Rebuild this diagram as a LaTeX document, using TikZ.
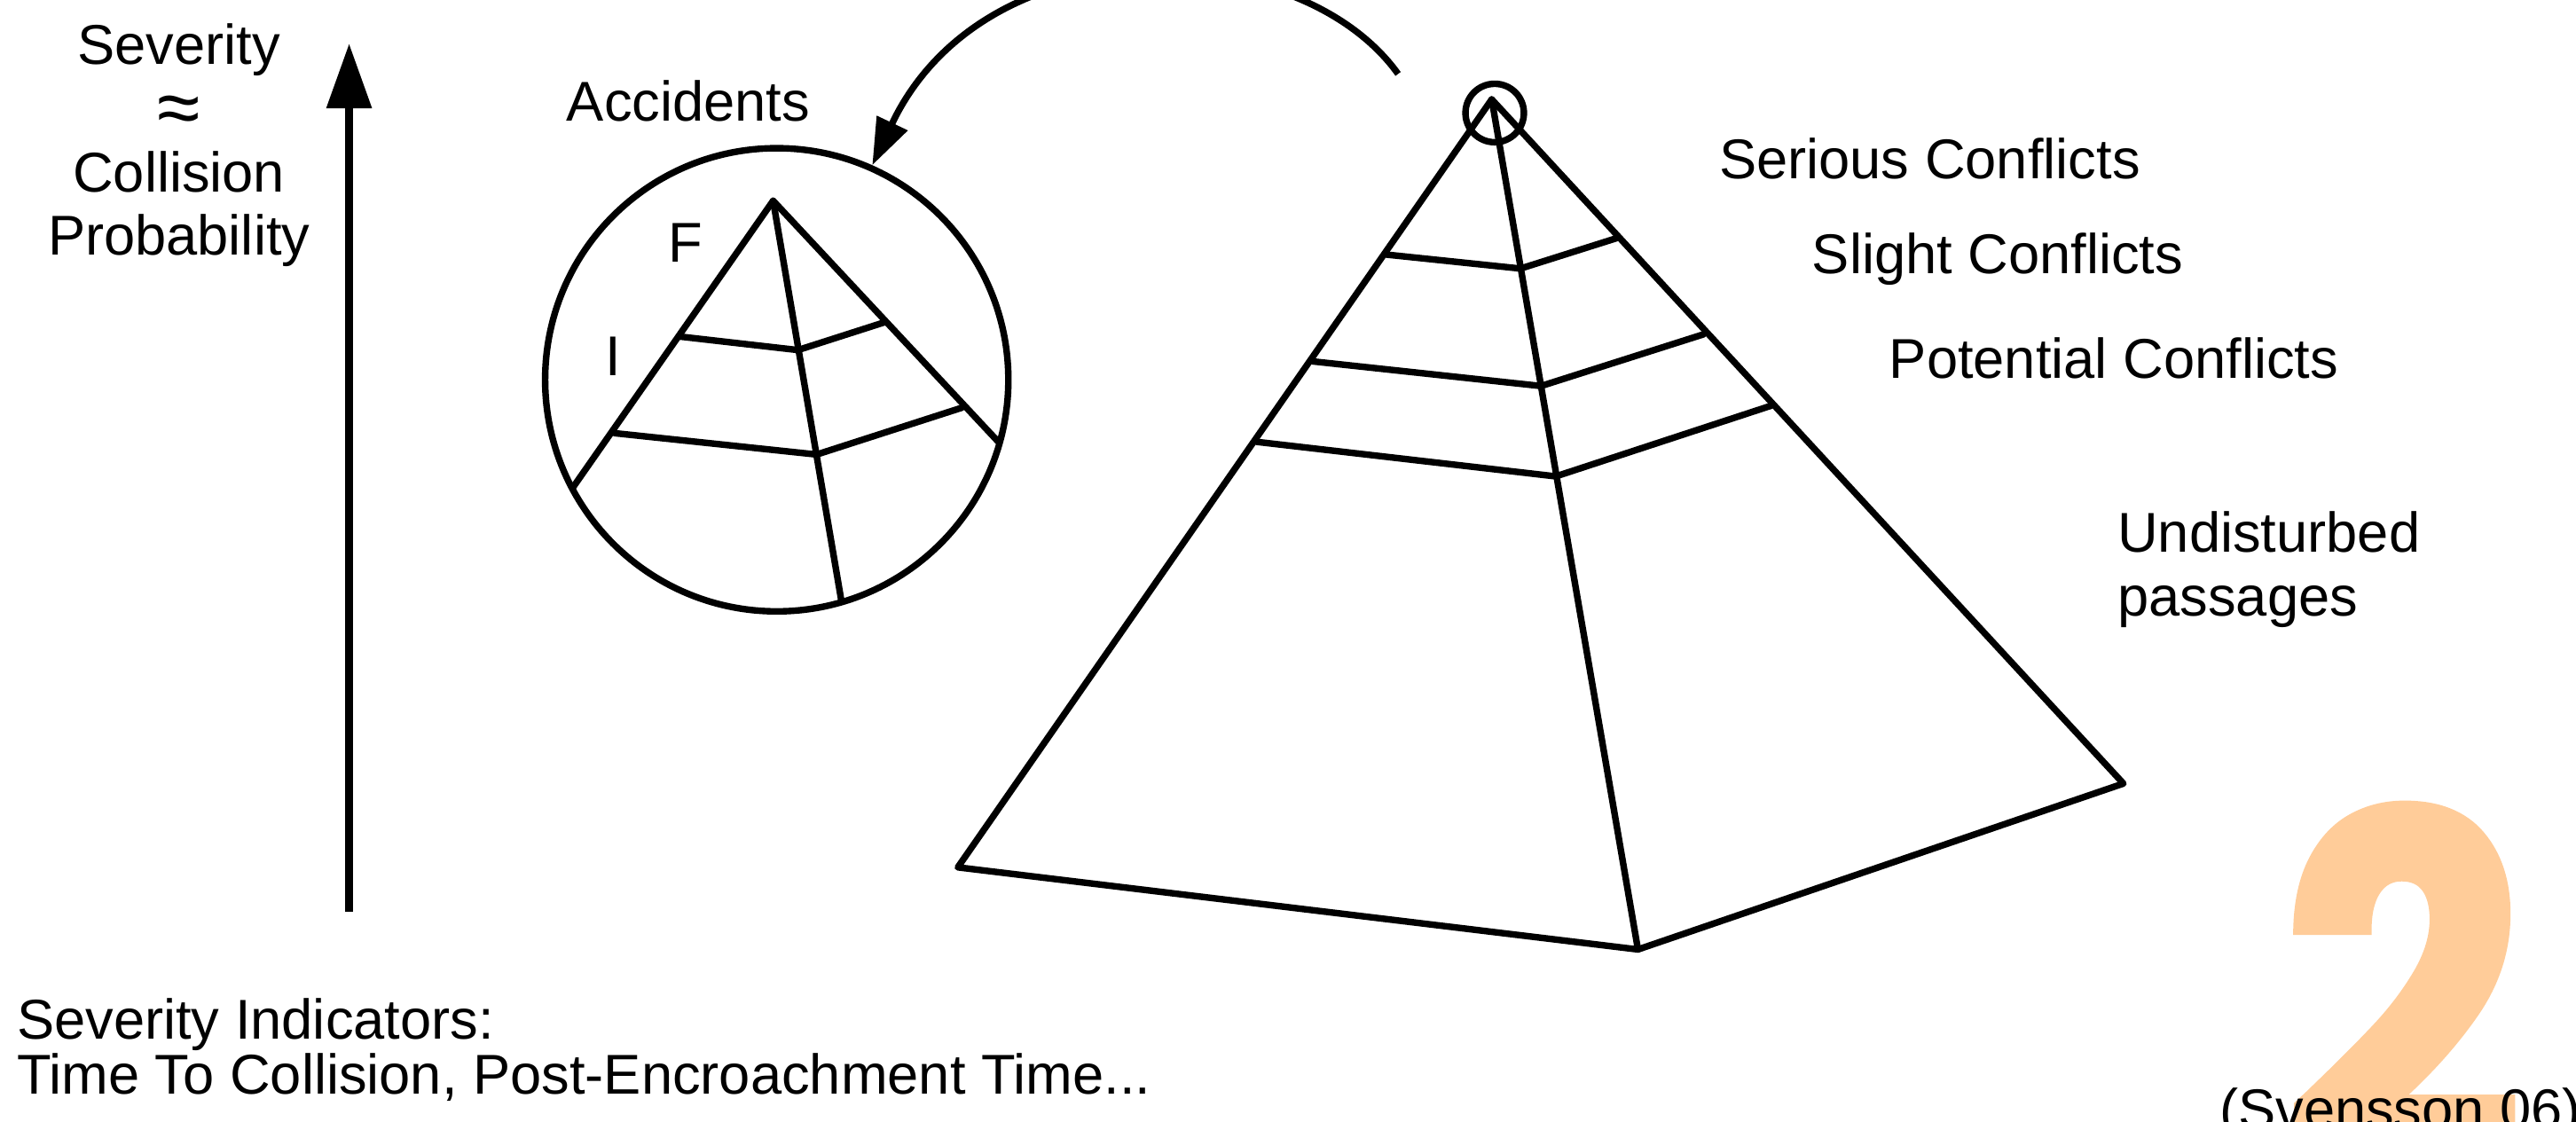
\documentclass[tikz,border=0pt]{standalone}
\usepackage{fontspec}
\setmainfont{Liberation Sans}
\newfontfamily\numfont{Poppins}[BoldFeatures={FakeBold=2}]
\usetikzlibrary{arrows.meta}
\definecolor{numorange}{HTML}{FFCC99}
\begin{document}
\begin{tikzpicture}[x=0.01852cm,y=-0.01852cm,
  lbl/.style={font=\fontsize{18}{20.4}\selectfont, inner sep=0pt, outer sep=0pt},
  edge/.style={line width=2.1pt, line join=round, line cap=round},
  ring/.style={draw, circle, line width=2.1pt, inner sep=0pt}]
\useasboundingbox (0,0) rectangle (1568,683);
\clip (0,0) rectangle (1568,683);

% watermark number
\node[anchor=base, text=numorange, inner sep=0pt] (two) at (1462.5,714)
  {\scalebox{0.86}[1]{\numfont\bfseries\fontsize{158}{158}\selectfont 2}};

% severity axis
\coordinate (vb) at (212.5,555);
\coordinate (vt) at (212.5,26.5);
\draw[line width=2.6pt, -{Triangle[length=20.8pt,width=14pt]}] (vb) -- (vt);
\node[lbl, align=center, anchor=base] (sev) at (108.9,155.5)
  {Severity\\\raisebox{-2pt}{\fontsize{25}{20.4}\selectfont ≈}\\Collision\\Probability};

% big pyramid
\coordinate (A) at (908,60.5);
\coordinate (L) at (583,528);
\coordinate (M) at (997,578);
\coordinate (R) at (1292.5,477);
\coordinate (b1l) at (844,155);   \coordinate (b1m) at (925.5,163.5); \coordinate (b1r) at (984,145);
\coordinate (b2l) at (799,220);   \coordinate (b2m) at (938,235);     \coordinate (b2r) at (1037,203.5);
\coordinate (b3l) at (765,269);   \coordinate (b3m) at (947,290);     \coordinate (b3r) at (1078,247);
\draw[edge] (A) -- (L) -- (M) -- (R) -- cycle;
\draw[edge] (A) -- (M);
\draw[edge] (b1l) -- (b1m) -- (b1r);
\draw[edge] (b2l) -- (b2m) -- (b2r);
\draw[edge] (b3l) -- (b3m) -- (b3r);
\node[ring, minimum size=0.659cm] (apexc) at (909.8,68.8) {};

% zoomed top
\node[ring, minimum size=5.223cm] (zoomc) at (472.8,231.2) {};
\coordinate (a) at (470.6,122.2);
\coordinate (sl) at (348.7,296.8);
\coordinate (sm) at (512,365);
\coordinate (sr) at (607.6,268.9);
\coordinate (s1l) at (413.8,204.9); \coordinate (s1m) at (485.7,213.1); \coordinate (s1r) at (538.4,196.2);
\coordinate (s2l) at (374.1,263.7); \coordinate (s2m) at (497.1,276.7); \coordinate (s2r) at (585.5,248.2);
\draw[edge] (sl) -- (a) -- (sr);
\draw[edge] (a) -- (sm);
\draw[edge] (s1l) -- (s1m) -- (s1r);
\draw[edge] (s2l) -- (s2m) -- (s2r);
\node[lbl] (F) at (417.5,148) {F};
\node[lbl] (I) at (373,217) {I};

% curved arrow from apex to zoom
\coordinate (cs) at (851,45);
\draw[line width=2.1pt, -{Triangle[length=15pt,width=10.5pt]}]
  (cs) .. controls (790,-40) and (600,-45) .. (zoomc.66.6);

% labels
\node[lbl, anchor=base west] (acc) at (345,73.5) {Accidents};
\node[lbl, anchor=base west] (ser) at (1046.5,108.9) {Serious Conflicts};
\node[lbl, anchor=base west] (sli) at (1103,166.6) {Slight Conflicts};
\node[lbl, anchor=base west] (pot) at (1150,230.3) {Potential Conflicts};
\node[lbl, anchor=base west, align=left] (und) at (1289,375) {Undisturbed\\passages};
\node[lbl, anchor=base west, align=left, font=\fontsize{18}{17.5}\selectfont] (ind) at (10.3,665.9)
  {Severity Indicators:\\Time To Collision, Post-Encroachment Time...};
\node[lbl, anchor=base west] (sven) at (1351,687) {(Svensson 06)};
\end{tikzpicture}
\end{document}
